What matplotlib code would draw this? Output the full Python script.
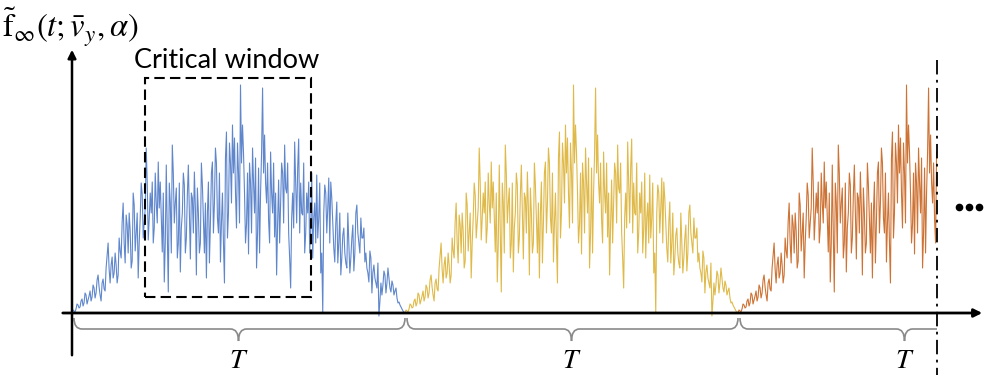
import numpy as np
import matplotlib.pyplot as plt
from matplotlib.path import Path
from matplotlib.patches import PathPatch, Rectangle

plt.rcParams['mathtext.fontset'] = 'stix'

# one period of the signal (height above the time axis)
signal = [0, 2, 4, 8, 6, 14, 10, 18, 13, 22, 16, 25, 20, 38, 18, 30, 24, 45, 70, 30,
          56, 40, 48, 38, 62, 91, 70, 98, 60, 82, 52, 108, 80, 35, 95, 118, 90, 165, 73, 120,
          131, 85, 110, 151, 131, 61, 31, 148, 21, 110, 168, 90, 125, 70, 41, 100, 128, 75, 148, 54,
          115, 141, 38, 100, 70, 128, 60, 35, 131, 90, 151, 110, 150, 80, 51, 120, 30, 181, 100, 150,
          188, 175, 85, 140, 228, 188, 120, 89, 59, 130, 165, 100, 45, 145, 120, 225, 178, 110, 93, 161,
          100, 76, 38, 133, 110, 140, 168, 120, 80, 25, 120, 171, 90, 174, 130, 98, 60, 120, 131, 85,
          55, 110, 138, 95, 40, 0, 128, 80, 135, 131, 90, 51, 111, 70, 38, 78, 60, 45, 70, 55,
          88, 60, 108, 70, 95, 75, 51, 45, 31, 55, 41, 35, 25, -3, 30, 28, 38, 30, 35, 21,
          28, 22, 15, 11, 6, 2, 0]
# in-between samples (one between each pair above)
signal_mid = [3, 1, 9, 5, 12, 7, 20, 9, 17, 12, 28, 15, 33, 26, 12, 34, 22, 58, 44, 48,
              35, 60, 30, 75, 55, 110, 50, 88, 100, 45, 120, 62, 100, 70, 130, 75, 105, 130, 95, 100,
              70, 140, 90, 105, 95, 120, 70, 80, 130, 60, 140, 110, 55, 130, 85, 140, 60, 118, 100, 120,
              80, 105, 125, 60, 150, 95, 110, 100, 50, 140, 80, 165, 95, 140, 90, 70, 155, 75, 170, 110,
              140, 120, 170, 90, 150, 160, 70, 140, 150, 80, 130, 155, 80, 60, 160, 140, 130, 150, 70, 120,
              150, 120, 90, 70, 150, 90, 125, 150, 55, 95, 85, 130, 145, 80, 100, 150, 80, 100, 60, 140,
              95, 70, 75, 130, 60, 100, 120, 105, 70, 115, 65, 90, 50, 100, 55, 85, 50, 100, 40, 75,
              42, 100, 80, 60, 75, 85, 60, 40, 62, 20, 48, 30, 50, 12, 18, 42, 20, 45, 25, 32,
              18, 25, 10, 8, 4, 1]
period = 333
starts = [72, 405, 738]
colors = ['#4472C4', '#DAAE2A', '#C55A11']
cut = 937
t_labels = ['$T$', '$T$', '$T$']

fig = plt.figure(figsize=(9.85, 3.75), dpi=100)
ax = fig.add_axes([0, 0, 1, 1])
ax.set_xlim(0, 985)
ax.set_ylim(-62, 313)
ax.axis('off')

h = np.empty(len(signal) + len(signal_mid))
h[0::2] = signal
h[1::2] = signal_mid
t = np.linspace(0, period, len(h))
for x0, c in zip(starts, colors):
    keep = x0 + t <= cut
    ax.plot(x0 + t[keep], h[keep], color=c, lw=0.8, alpha=0.85, zorder=2)

# axes with arrows
ax.annotate('', xy=(72, 266), xytext=(72, -45),
            arrowprops=dict(arrowstyle='-|>', lw=1.8, color='black', mutation_scale=12))
ax.annotate('', xy=(985, 0), xytext=(60, 0),
            arrowprops=dict(arrowstyle='-|>', lw=2.0, color='black', mutation_scale=12))
ax.text(2, 286, r'$\tilde{\mathrm{f}}_{\infty}(t;\bar{v}_y,\alpha)$', fontsize=23.5,
        ha='left', va='center')

# critical window
ax.add_patch(Rectangle((145, 16), 166, 219, fill=False, lw=1.5, ls=(0, (5, 2.5)),
                       color='black', zorder=3))
ax.text(227, 252, 'Critical window', fontsize=19.5, family='Lato', ha='center', va='center')

# cut-off line and dots
ax.plot([cut, cut], [253, -62], color='black', lw=1.3, ls=(0, (8, 3, 1.5, 3)))
ax.plot([959, 969, 979], [106, 106, 106], 'o', color='black', ms=4.5)


def brace(x0, x1, xm, right_tip=True):
    top, mid, low, r = -5, -16, -28, 8
    verts = [(x0, top), (x0, mid), (x0 + r, mid), (xm - r, mid), (xm, mid), (xm, low),
             (xm, mid), (xm + r, mid), (x1 - r, mid)]
    codes = [Path.MOVETO, Path.CURVE3, Path.CURVE3, Path.LINETO, Path.CURVE3, Path.CURVE3,
             Path.CURVE3, Path.CURVE3, Path.LINETO]
    if right_tip:
        verts += [(x1, mid), (x1, top)]
        codes += [Path.CURVE3, Path.CURVE3]
    else:
        verts += [(x1, mid)]
        codes += [Path.LINETO]
    ax.add_patch(PathPatch(Path(verts, codes), fill=False, color='#8a8a8a', lw=1.2))


for i, x0 in enumerate(starts):
    x1 = min(x0 + period, cut)
    xm = x0 + period / 2
    brace(x0 + 2, x1, xm, right_tip=x1 < cut)
    ax.text(xm, -47, t_labels[i], fontsize=20, ha='center', va='center')

fig.savefig('out.png', dpi=100)
